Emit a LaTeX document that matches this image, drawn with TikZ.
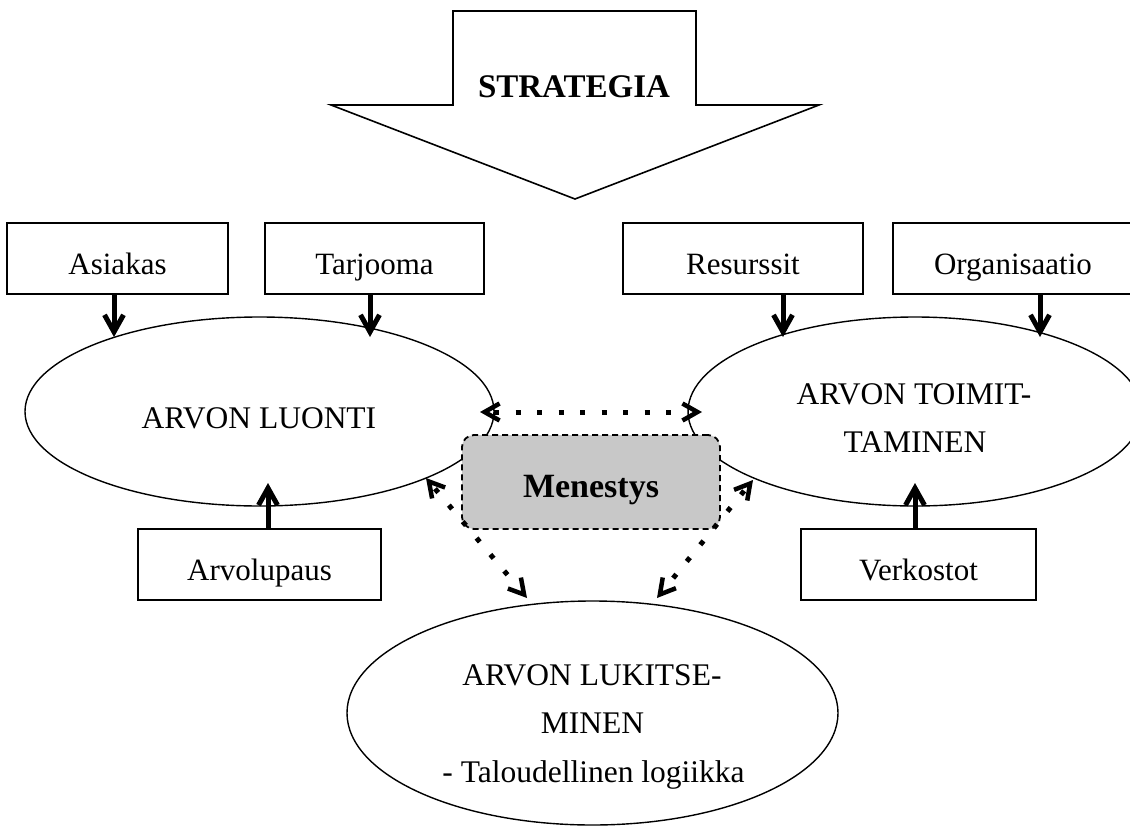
\documentclass[tikz,border=0pt]{standalone}
\usepackage{fontspec}
\setmainfont{Liberation Serif}
\usetikzlibrary{shapes.geometric,arrows.meta}
\definecolor{menfill}{RGB}{200,200,200}
\begin{document}
\begin{tikzpicture}[x=1pt,y=-1pt,
  txt/.style={font=\fontsize{31.5}{37}\selectfont, inner sep=0pt, anchor=base},
  boldtxt/.style={font=\fontsize{33}{40}\selectfont\bfseries, inner sep=0pt, anchor=base},
  box/.style={draw, line width=1.6pt, inner sep=0pt, minimum height=71pt,
    font=\fontsize{31}{37}\selectfont, text height=31pt, text depth=0pt},
  ell/.style={draw, ellipse, line width=1.4pt, inner sep=0pt, fill=white},
  arr/.style={line width=5pt, -{Straight Barb[length=17pt,width=19pt]}},
  dotline/.style={line width=5pt, dash pattern=on 5pt off 16.5pt, shorten <=14pt, shorten >=14pt},
  dottips/.style={tips=true, solid, line width=4.5pt,
    {Straight Barb[length=15pt,width=17pt]}-{Straight Barb[length=15pt,width=17pt]}},
]
\useasboundingbox (0,0) rectangle (1130,827);
\fill[white] (0,0) rectangle (1130,827);

% strategy arrow
\draw[line width=1.6pt, line join=miter] (453,11) -- (696,11) -- (696,105) -- (819,105)
  -- (575,199) -- (331,105) -- (453,105) -- cycle;
\node[boldtxt] (strategia) at (574,97) {STRATEGIA};

% boxes
\node[box, minimum width=221pt] (asiakas) at (117.5,258.5) {Asiakas};
\node[box, minimum width=219pt] (tarjooma) at (374.5,258.5) {Tarjooma};
\node[box, minimum width=240pt] (resurssit) at (743,258.5) {Resurssit};
\node[box, minimum width=240pt] (organisaatio) at (1013,258.5) {Organisaatio};
\node[box, minimum width=243pt] (arvolupaus) at (259.5,564.5) {Arvolupaus};
\node[box, minimum width=235pt] (verkostot) at (918.5,564.5) {Verkostot};

% ellipses
\node[ell, minimum width=469pt, minimum height=189pt] (luonti) at (259.5,411.5) {};
\node[ell, minimum width=454pt, minimum height=189pt] (toimit) at (915,411.5) {};
\node[ell, minimum width=491pt, minimum height=224pt] (lukit) at (592.5,713) {};

\node[txt] (luonti-t) at (259,428) {ARVON LUONTI};
\node[txt] (toimit-t1) at (914,404) {ARVON TOIMIT-};
\node[txt] (toimit-t2) at (915,452) {TAMINEN};
\node[txt] (lukit-t1) at (592,685) {ARVON LUKITSE-};
\node[txt] (lukit-t2) at (592.5,733) {MINEN};
\node[txt] (lukit-t3) at (593.5,782) {- Taloudellinen logiikka};

% Menestys
\node[draw, line width=1.8pt, dash pattern=on 6pt off 4pt, fill=menfill,
  rounded corners=12pt, minimum width=258pt, minimum height=94pt, inner sep=0pt,
  font=\fontsize{34}{40}\selectfont\bfseries, text height=30pt, text depth=0pt]
  (menestys) at (591,482) {Menestys};

% dotted connectors
\coordinate (hl) at (480,412);
\coordinate (hr) at (702,412);
\coordinate (dl1) at (426,478);
\coordinate (dl2) at (527,598);
\coordinate (dr1) at (753,480);
\coordinate (dr2) at (657,598);
\draw[dotline] (hl) -- (hr);
\draw[dotline] (dl1) -- (dl2);
\draw[dotline] (dr1) -- (dr2);
\path[dottips] (hl) -- (hr);
\path[dottips] (dl1) -- (dl2);
\path[dottips] (dr1) -- (dr2);

% solid arrows
\coordinate (a1) at (114,337);
\coordinate (a2) at (370,337);
\coordinate (a3) at (783,337);
\coordinate (a4) at (1040,337);
\coordinate (a5) at (268,483);
\coordinate (a6) at (915,483);
\draw[arr] (asiakas.south -| a1) -- (a1);
\draw[arr] (tarjooma.south -| a2) -- (a2);
\draw[arr] (resurssit.south -| a3) -- (a3);
\draw[arr] (organisaatio.south -| a4) -- (a4);
\draw[arr] (arvolupaus.north -| a5) -- (a5);
\draw[arr] (verkostot.north -| a6) -- (a6);
\end{tikzpicture}
\end{document}
